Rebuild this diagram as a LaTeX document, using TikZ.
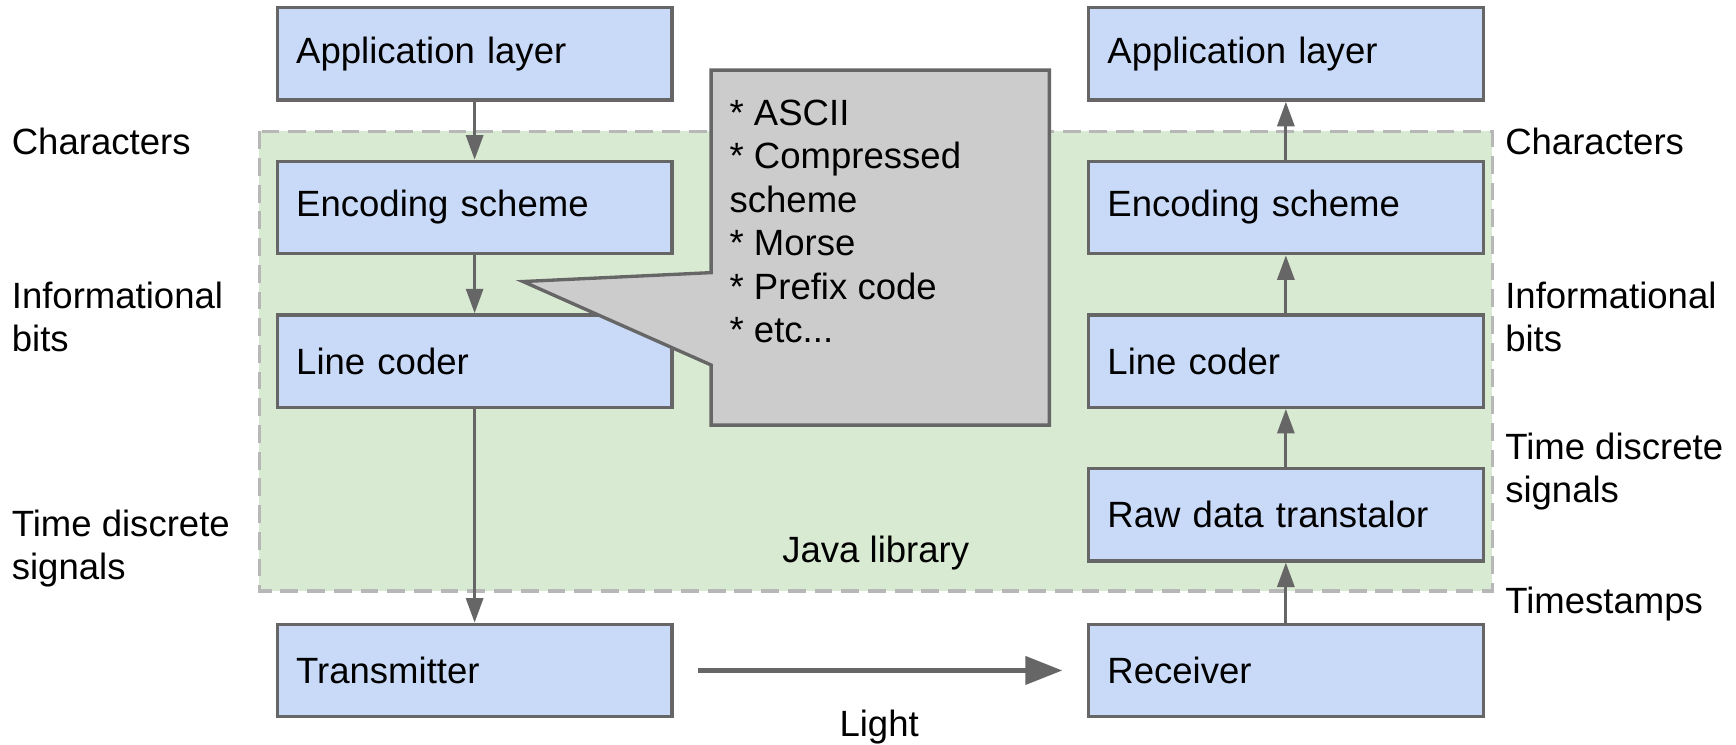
\documentclass[tikz,border=0pt]{standalone}
\usepackage{fontspec}
\setmainfont{Liberation Sans}
\usetikzlibrary{arrows.meta}
\definecolor{boxfill}{HTML}{C9DAF8}
\definecolor{boxline}{HTML}{666666}
\definecolor{libfill}{HTML}{D9EAD3}
\definecolor{libline}{HTML}{B7B7B7}
\definecolor{callfill}{HTML}{CCCCCC}
\begin{document}
\begin{tikzpicture}[x=0.3pt,y=-0.3pt,
  every node/.style={font=\fontsize{9.85}{11.7}\selectfont},
  blockbox/.style={draw=boxline, fill=boxfill, line width=0.9pt, rectangle,
    minimum height=24.9pt, text width=96.2pt, inner xsep=5.1pt, inner ysep=0pt, align=left},
  lbl/.style={anchor=west, align=left, inner sep=0pt},
  arr/.style={draw=boxline, line width=0.8pt, -{Triangle[length=6.6pt,width=4.6pt]}},
  lightarr/.style={draw=boxline, line width=1.3pt, -{Triangle[length=10pt,width=7.5pt]}}]
\useasboundingbox (0,0) rectangle (1560,668.6);
% Java library region
\draw[draw=libline, fill=libfill, line width=0.9pt, dash pattern=on 4.8pt off 2.4pt]
  (233,118) rectangle (1341,531);
\node[inner sep=0pt] (java) at (787,497) {Java library};
% left column
\node[blockbox] (la) at (426.5,48.5) {Application layer};
\node[blockbox] (le) at (426.5,186.5) {Encoding scheme};
\node[blockbox] (ll) at (426.5,324.5) {Line coder};
\node[blockbox] (tx) at (426.5,602.5) {Transmitter};
% right column
\node[blockbox] (ra) at (1155.5,48.5) {Application layer};
\node[blockbox] (re) at (1155.5,186.5) {Encoding scheme};
\node[blockbox] (rl) at (1155.5,324.5) {Line coder};
\node[blockbox] (rr) at (1155.5,462.5) {Raw data transtalor};
\node[blockbox] (rx) at (1155.5,602.5) {Receiver};
% arrows
\draw[arr] (la.south) -- (le.north);
\draw[arr] (le.south) -- (ll.north);
\draw[arr] (ll.south) -- (tx.north);
\draw[arr] (rx.north) -- (rr.south);
\draw[arr] (rr.north) -- (rl.south);
\draw[arr] (rl.north) -- (re.south);
\draw[arr] (re.north) -- (ra.south);
\draw[lightarr] ([xshift=6.6pt]tx.east) -- ([xshift=-6.6pt]rx.west);
% callout
\draw[draw=boxline, fill=callfill, line width=0.9pt, line join=miter]
  (639,63) -- (943,63) -- (943,382) -- (639,382) -- (639,328) -- (470,253) -- (639,245) -- cycle;
\node[lbl] (callt) at (655,199) {* ASCII\\* Compressed\\scheme\\* Morse\\* Prefix code\\* etc...};
% side labels
\node[lbl] (lc) at (10,127) {Characters};
\node[lbl] (lib) at (10,285) {Informational\\bits};
\node[lbl] (lts) at (10,493) {Time discrete\\signals};
\node[lbl] (rc) at (1352,127) {Characters};
\node[lbl] (rib) at (1352,285) {Informational\\bits};
\node[lbl] (rts) at (1352,424) {Time discrete\\signals};
\node[lbl] (rtm) at (1352,543) {Timestamps};
\node[inner sep=0pt] (light) at (790,653) {Light};
\end{tikzpicture}
\end{document}
